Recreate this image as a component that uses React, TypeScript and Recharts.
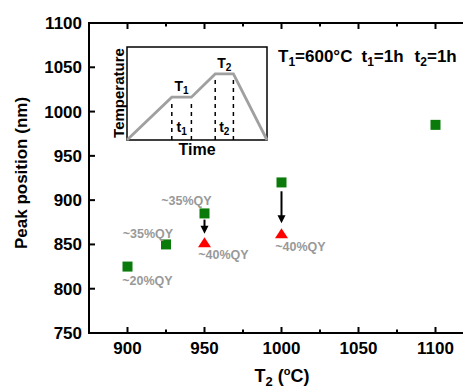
import React from 'react';
import {
  ScatterChart, Scatter, XAxis, YAxis, ReferenceLine, ReferenceDot, Label,
  ComposedChart, Line, ReferenceArea,
} from 'recharts';

const FONT = '"Liberation Sans", Arial, Helvetica, sans-serif';

// main plot axes
const xDomain = [875, 1125];
const yDomain = [750, 1100];
const xTicks = [900, 950, 1000, 1050, 1100];
const xMinorTicks = [925, 975, 1025, 1075];
const yTicks = [750, 800, 850, 900, 950, 1000, 1050, 1100];

// peak positions vs T2
const asGrownT2 = [900, 925, 950, 1000, 1100];
const asGrownPeak = [825, 850, 885, 920, 985];
const treatedT2 = [950, 1000];
const treatedPeak = [852, 862];

// QY notes, pinned to points
const qyT2 = [900, 925, 950, 950, 1000];
const qyPeak = [825, 850, 885, 852, 862];
const qyText = ['~20%QY', '~35%QY', '~35%QY', '~40%QY', '~40%QY'];
const qyOffset = [[20, 18], [-18, -6], [-18, -8], [19, 16], [19, 17]];

// arrows (green -> red)
const arrowT2 = [950, 1000];
const arrowFrom = [878, 910];
const arrowTo = [862, 874];

// inset: annealing profile
const profileTime = [0, 3.2, 4.6, 6.3, 7.6, 10];
const profileTemp = [0, 4.6, 4.6, 7.1, 7.1, 0];

const asGrown = asGrownT2.map((t, i) => ({ t, peak: asGrownPeak[i] }));
const treated = treatedT2.map((t, i) => ({ t, peak: treatedPeak[i] }));
const profile = profileTime.map((time, i) => ({ time, temp: profileTemp[i] }));

const [X0, X1] = xDomain;
const [Y0, Y1] = yDomain;
const allXTicks = [...xTicks, ...xMinorTicks];

const axisStroke = { stroke: '#000', strokeWidth: 2 };
const labelProps = { fontFamily: FONT, fontWeight: 'bold', fontSize: 17, fill: '#000' } as const;

// inward tick marks, drawn at a dot placed on the frame
const tickLen = (v: number) => (xTicks.includes(v) ? 6 : 3.5);
const tick = (dx: number, dy: number) => (p: any) => (
  <line x1={p.cx} y1={p.cy} x2={p.cx + dx} y2={p.cy + dy} stroke="#000" strokeWidth={2} />
);

const Square = (p: any) => (
  <rect x={p.cx - 5} y={p.cy - 5} width={10} height={10} fill="#0a7a0a" />
);
const Triangle = (p: any) => (
  <polygon
    points={`${p.cx},${p.cy - 5.5} ${p.cx + 6.5},${p.cy + 4.5} ${p.cx - 6.5},${p.cy + 4.5}`}
    fill="#ff0000"
  />
);

const Arrow = (p: any) => {
  const { x1, y1, x2, y2 } = p;
  return (
    <g>
      <line x1={x1} y1={y1} x2={x2} y2={y2 - 6} stroke="#000" strokeWidth={2} />
      <polygon points={`${x2 - 4},${y2 - 8} ${x2 + 4},${y2 - 8} ${x2},${y2}`} fill="#000" />
    </g>
  );
};

const Sub = ({ x, y, main, sub, size = 14 }: any) => (
  <text x={x} y={y} textAnchor="middle" fontFamily={FONT} fontWeight="bold" fontSize={size} fill="#000">
    <tspan>{main}</tspan>
    <tspan dy={3} fontSize={size * 0.72}>{sub}</tspan>
  </text>
);

// x-axis title plus the condition line in the upper right
const XTitle = () => (
  <g>
    <text x={274} y={374} textAnchor="middle" {...labelProps} fontSize={18}>
      <tspan>T</tspan>
      <tspan dy={4} fontSize={13}>2</tspan>
      <tspan dy={-4}> (</tspan>
      <tspan dy={-7} fontSize={11}>o</tspan>
      <tspan dy={7}>C)</tspan>
    </text>
    <text x={270} y={54} {...labelProps}>
      <tspan>T</tspan>
      <tspan dy={4} fontSize={12}>1</tspan>
      <tspan dy={-4}>=600°C</tspan>
      <tspan dx={9}>t</tspan>
      <tspan dy={4} fontSize={12}>1</tspan>
      <tspan dy={-4}>=1h</tspan>
      <tspan dx={11}>t</tspan>
      <tspan dy={4} fontSize={12}>2</tspan>
      <tspan dy={-4}>=1h</tspan>
    </text>
  </g>
);

const YTitle = () => (
  <text x={19} y={165} transform="rotate(-90 19 165)" textAnchor="middle" {...labelProps}>
    Peak position (nm)
  </text>
);

function Inset() {
  const plateaus = [[1, 2], [3, 4]];
  return (
    <div style={{ position: 'absolute', left: 100, top: 36 }}>
      <ComposedChart width={162} height={124} data={profile} margin={{ top: 3, right: 3, bottom: 0, left: 0 }}>
        <XAxis type="number" dataKey="time" domain={[0, 10]} ticks={[]} axisLine={false} tickLine={false} height={28}
          label={<Label content={() => (
            <text x={89} y={111} textAnchor="middle" fontFamily={FONT} fontWeight="bold" fontSize={16} fill="#000">Time</text>
          )} />} />
        <YAxis type="number" domain={[0, 10]} ticks={[]} axisLine={false} tickLine={false} width={19}
          label={<Label content={() => (
            <text x={16} y={49} transform="rotate(-90 16 49)" textAnchor="middle" fontFamily={FONT} fontWeight="bold" fontSize={15} fill="#000">Temperature</text>
          )} />} />
        <ReferenceArea x1={0} x2={10} y1={0} y2={10} fill="none" stroke="#000" strokeWidth={1.5} fillOpacity={0} />
        {profileTime.slice(1, 5).map((tm, i) => (
          <ReferenceLine key={'d' + i}
            segment={[{ x: tm, y: 0 }, { x: tm, y: profileTemp[i + 1] - 0.6 }]}
            stroke="#000" strokeWidth={1.5} strokeDasharray="4 4" />
        ))}
        <Line type="linear" dataKey="temp" stroke="#a0a0a0" strokeWidth={2.8} dot={false} isAnimationActive={false} />
        {plateaus.map(([a, b], i) => {
          const mid = (profileTime[a] + profileTime[b]) / 2;
          return (
            <React.Fragment key={'p' + i}>
              <ReferenceDot x={mid} y={profileTemp[a]} r={1}
                shape={(p: any) => <Sub x={p.cx} y={p.cy - 6} main="T" sub={String(i + 1)} />} />
              <ReferenceDot x={mid} y={0} r={1}
                shape={(p: any) => <Sub x={p.cx} y={p.cy - 8} main="t" sub={String(i + 1)} />} />
            </React.Fragment>
          );
        })}
      </ComposedChart>
    </div>
  );
}

export default function App() {
  return (
    <div style={{ position: 'relative', width: 463, height: 382, overflow: 'hidden', background: '#fff' }}>
      <ScatterChart width={480} height={382} margin={{ top: 15, right: 14, bottom: 0, left: 0 }}>
        <XAxis type="number" dataKey="t" domain={xDomain} ticks={xTicks} interval={0}
          height={57} tickSize={0} tickMargin={9} tick={labelProps} axisLine={axisStroke} tickLine={false}
          label={<Label content={XTitle} />} />
        <YAxis type="number" dataKey="peak" domain={yDomain} ticks={yTicks} interval={0}
          width={81} tickSize={0} tickMargin={7} tick={labelProps} axisLine={axisStroke} tickLine={false}
          label={<Label content={YTitle} />} />

        {/* box frame */}
        <ReferenceArea x1={X0} x2={X1} y1={Y0} y2={Y1} ifOverflow="visible"
          fill="none" fillOpacity={0} stroke="#000" strokeWidth={2} />

        {/* inward ticks on all four sides */}
        {allXTicks.map((v) => (
          <React.Fragment key={'x' + v}>
            <ReferenceDot x={v} y={Y0} r={1} ifOverflow="visible" shape={tick(0, -tickLen(v))} />
            <ReferenceDot x={v} y={Y1} r={1} ifOverflow="visible" shape={tick(0, tickLen(v))} />
          </React.Fragment>
        ))}
        {yTicks.map((v) => (
          <React.Fragment key={'y' + v}>
            <ReferenceDot x={X0} y={v} r={1} ifOverflow="visible" shape={tick(6, 0)} />
            <ReferenceDot x={X1} y={v} r={1} ifOverflow="visible" shape={tick(-6, 0)} />
          </React.Fragment>
        ))}

        {arrowT2.map((t, i) => (
          <ReferenceLine key={'a' + i} segment={[{ x: t, y: arrowFrom[i] }, { x: t, y: arrowTo[i] }]} shape={Arrow} />
        ))}

        <Scatter data={asGrown} shape={Square} isAnimationActive={false} />
        <Scatter data={treated} shape={Triangle} isAnimationActive={false} />

        {qyT2.map((t, i) => (
          <ReferenceDot key={'q' + i} x={t} y={qyPeak[i]} r={1}
            shape={(p: any) => (
              <text x={p.cx + qyOffset[i][0]} y={p.cy + qyOffset[i][1]} textAnchor="middle"
                fontFamily={FONT} fontWeight="bold" fontSize={12.5} fill="#999">{qyText[i]}</text>
            )} />
        ))}
      </ScatterChart>
      {/* top and right edges of the plot box */}
      <div style={{
        position: 'absolute', left: 80, top: 14, width: 385, height: 310,
        borderTop: '2px solid #000', borderRight: '2px solid #000', pointerEvents: 'none',
      }} />
      <Inset />
    </div>
  );
}
